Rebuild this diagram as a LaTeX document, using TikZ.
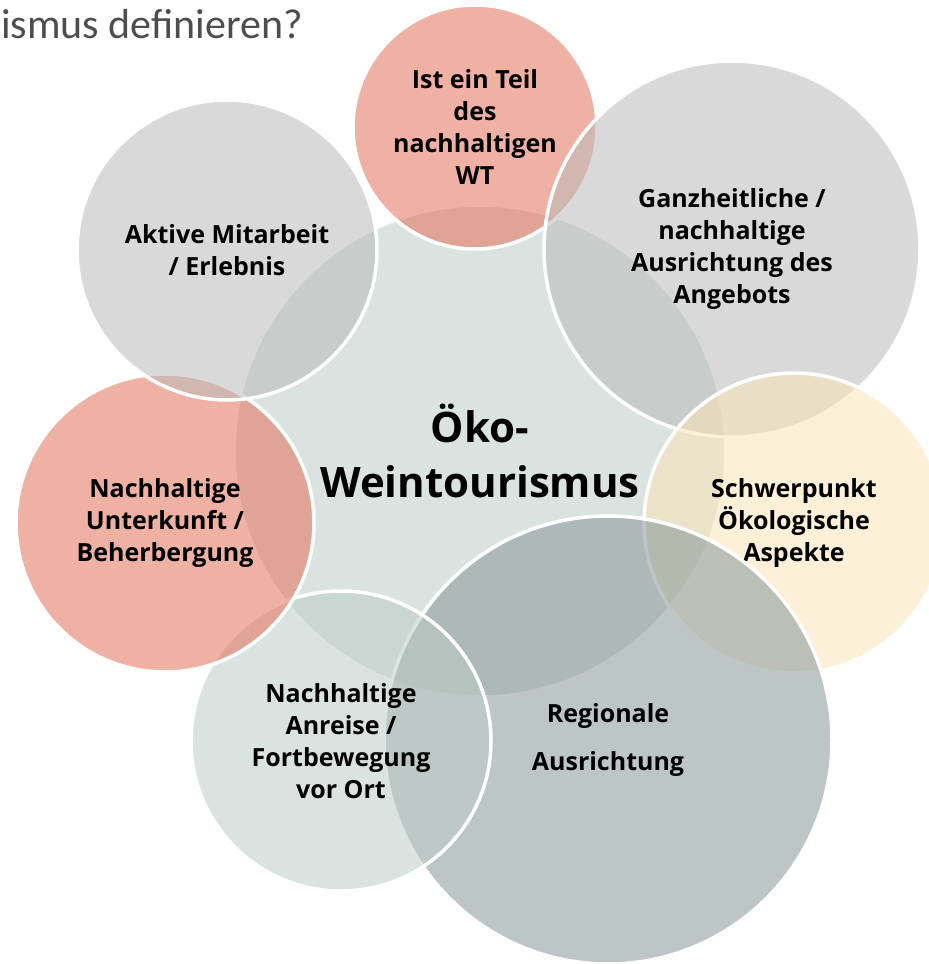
\documentclass[tikz,border=0pt]{standalone}
\usepackage{fontspec}
\setmainfont{Open Sans}
\newfontfamily\titlefont{Carlito}
\usepackage{tikz}
\definecolor{sage}{HTML}{BCCCC5}
\definecolor{rose}{HTML}{E4715B}
\definecolor{stone}{HTML}{BABABA}
\definecolor{cream}{HTML}{FBE4B8}
\definecolor{slate}{HTML}{879799}
\definecolor{titlegray}{HTML}{4D4D4D}

\begin{document}
\begin{tikzpicture}[x=1pt,y=-1pt,
  bubble/.style={circle, draw=white, line width=3.5pt, fill opacity=0.55,
    text opacity=1, inner sep=0pt, align=center,
    font=\bfseries\fontsize{25}{32}\selectfont}]
  \useasboundingbox (0,0) rectangle (929,964);
  % Title
  \node[anchor=base west, inner sep=0pt, text=titlegray,
    font=\titlefont\fontsize{42}{50}\selectfont] (title) at (1,38) {ismus definieren?};
  % Circles, drawn clockwise from the centre
  \node[bubble, fill=sage, minimum size=492pt,
    font=\bfseries\fontsize{42}{55}\selectfont] (oeko) at (480,451) {Öko-\\Weintourismus};
  \node[bubble, fill=rose, minimum size=244pt] (teil) at (475,127) {Ist ein Teil\\des\\nachhaltigen\\WT};
  \node[bubble, fill=stone, minimum size=376pt] (ganz) at (732,249) {Ganzheitliche /\\nachhaltige\\Ausrichtung des\\Angebots};
  \node[bubble, fill=cream, minimum size=300pt] (schwer) at (794,523) {Schwerpunkt\\Ökologische\\Aspekte};
  \node[bubble, fill=slate, minimum size=448pt] (region) at (608,740) {Regionale\\[16pt]Ausrichtung};
  \node[bubble, fill=sage, minimum size=300pt] (anreise) at (341,741) {Nachhaltige\\Anreise /\\Fortbewegung\\vor Ort};
  \node[bubble, fill=rose, minimum size=298pt] (unterkunft) at (165,523) {Nachhaltige\\Unterkunft /\\Beherbergung};
  \node[bubble, fill=stone, minimum size=300pt] (aktiv) at (227,250) {Aktive Mitarbeit\\/ Erlebnis};
\end{tikzpicture}
\end{document}
